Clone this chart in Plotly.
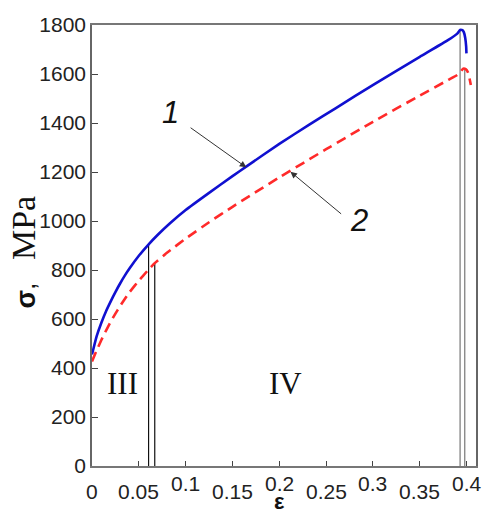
import plotly.graph_objects as go

# ---- data ----
strain_1 = [0, 0.005, 0.01, 0.015, 0.02, 0.025, 0.03, 0.035, 0.04, 0.05, 0.06, 0.07,
            0.083, 0.1, 0.125, 0.15, 0.165, 0.2, 0.232, 0.26, 0.302, 0.35, 0.38, 0.39,
            0.393, 0.3955, 0.397, 0.3985, 0.3995, 0.3998]
stress_1 = [455, 530, 585, 632, 672, 710, 745, 777, 806, 858, 903, 943,
            990, 1045, 1115, 1183, 1223, 1315, 1393, 1460, 1560, 1670, 1738, 1765,
            1780, 1779, 1771, 1747, 1712, 1684]

strain_2 = [0, 0.005, 0.01, 0.015, 0.02, 0.025, 0.03, 0.035, 0.04, 0.05, 0.06, 0.067,
            0.08, 0.1, 0.125, 0.15, 0.2, 0.25, 0.3, 0.35, 0.38, 0.39, 0.3928, 0.3963,
            0.399, 0.4016, 0.4045]
stress_2 = [427, 472, 514, 553, 589, 622, 653, 682, 709, 757, 800, 828,
            870, 928, 995, 1058, 1178, 1293, 1405, 1512, 1575, 1596, 1605, 1622,
            1620, 1605, 1555]

boundary_strain = [0.0604, 0.067, 0.393, 0.398]
boundary_stress = [910, 828, 1780, 1622]
boundary_color = ["#111111", "#111111", "#777777", "#777777"]

x_tick_vals = [0, 0.05, 0.1, 0.15, 0.2, 0.25, 0.3, 0.35, 0.4]
x_tick_text = ["0", "0.05", "0.1", "0.15", "0.2", "0.25", "0.3", "0.35", "0.4"]
y_tick_vals = [0, 200, 400, 600, 800, 1000, 1200, 1400, 1600, 1800]

zone_names = ["III", "IV"]
zone_strain = [0.0328, 0.207]
zone_stress = [335, 335]

fig = go.Figure()

for xb, yb, cb in zip(boundary_strain, boundary_stress, boundary_color):
    fig.add_trace(go.Scatter(x=[xb, xb], y=[0, yb], mode="lines",
                             line=dict(color=cb, width=1.2), showlegend=False,
                             hoverinfo="skip"))

fig.add_trace(go.Scatter(x=strain_1, y=stress_1, mode="lines", name="1",
                         line=dict(color="#1010d0", width=2.6, shape="spline", smoothing=0.4),
                         showlegend=False))
fig.add_trace(go.Scatter(x=strain_2, y=stress_2, mode="lines", name="2",
                         line=dict(color="#ff2a2a", width=2.6, dash="10px,6px",
                                   shape="spline", smoothing=0.4),
                         showlegend=False))

ann = []
# x tick labels, alternating heights as in the reference
for v, t in zip(x_tick_vals, x_tick_text):
    high = t in ("0.1", "0.2", "0.3", "0.4")
    ann.append(dict(x=v, y=0, xref="x", yref="paper", text=t, showarrow=False,
                    yanchor="middle", xanchor="center",
                    yshift=-(17 if high else 25), borderpad=0,
                    font=dict(family="Liberation Sans", size=21, color="#222")))

# axis titles
ann.append(dict(x=0.2, y=0, xref="x", yref="paper", text="<b>ε</b>", showarrow=False,
                yanchor="bottom", yshift=-49, borderpad=0,
                font=dict(family="Liberation Sans", size=22, color="#111")))
ann.append(dict(x=0, y=0.484, xref="paper", yref="paper", xshift=-68,
                text="<b>σ</b>,&nbsp;&nbsp;&nbsp;<span style='font-family:Liberation Serif;font-size:34px'>MPa</span>",
                textangle=-90, showarrow=False, xanchor="center", yanchor="middle",
                font=dict(family="Liberation Sans", size=27, color="#111")))

# zone labels
for n, xs, ys in zip(zone_names, zone_strain, zone_stress):
    ann.append(dict(x=xs, y=ys, xref="x", yref="y", text=n, showarrow=False,
                    font=dict(family="Liberation Serif", size=31, color="#111")))

# curve labels with arrows
ann.append(dict(x=0.1647, y=1219, ax=0.1037, ay=1385, xref="x", yref="y",
                axref="x", ayref="y", text="", showarrow=True, arrowhead=2,
                arrowsize=1.3, arrowwidth=1, arrowcolor="#333"))
ann.append(dict(x=0.2119, y=1201, ax=0.2676, ay=1024, xref="x", yref="y",
                axref="x", ayref="y", text="", showarrow=True, arrowhead=2,
                arrowsize=1.3, arrowwidth=1, arrowcolor="#333"))
ann.append(dict(x=0.0835, y=1441, xref="x", yref="y", text="<i>1</i>", showarrow=False,
                font=dict(family="Liberation Sans", size=31, color="#111")))
ann.append(dict(x=0.2846, y=1004, xref="x", yref="y", text="<i>2</i>", showarrow=False,
                font=dict(family="Liberation Sans", size=31, color="#111")))

fig.update_layout(
    width=483, height=515,
    margin=dict(l=92, r=5, t=25, b=49),
    paper_bgcolor="white", plot_bgcolor="white",
    annotations=ann,
    xaxis=dict(range=[0, 0.41], tickvals=x_tick_vals, showticklabels=False,
               ticks="inside", ticklen=5, tickcolor="#444", showgrid=False,
               zeroline=False, showline=True, linecolor="#777", linewidth=1.5,
               mirror=True),
    yaxis=dict(range=[0, 1800], tickvals=y_tick_vals, ticks="inside", ticklen=6,
               tickcolor="#444", showgrid=False, zeroline=False, showline=True,
               linecolor="#666", linewidth=1.5, mirror=True,
               tickfont=dict(family="Liberation Sans", size=21, color="#222")),
)

fig.write_html("out.html")
